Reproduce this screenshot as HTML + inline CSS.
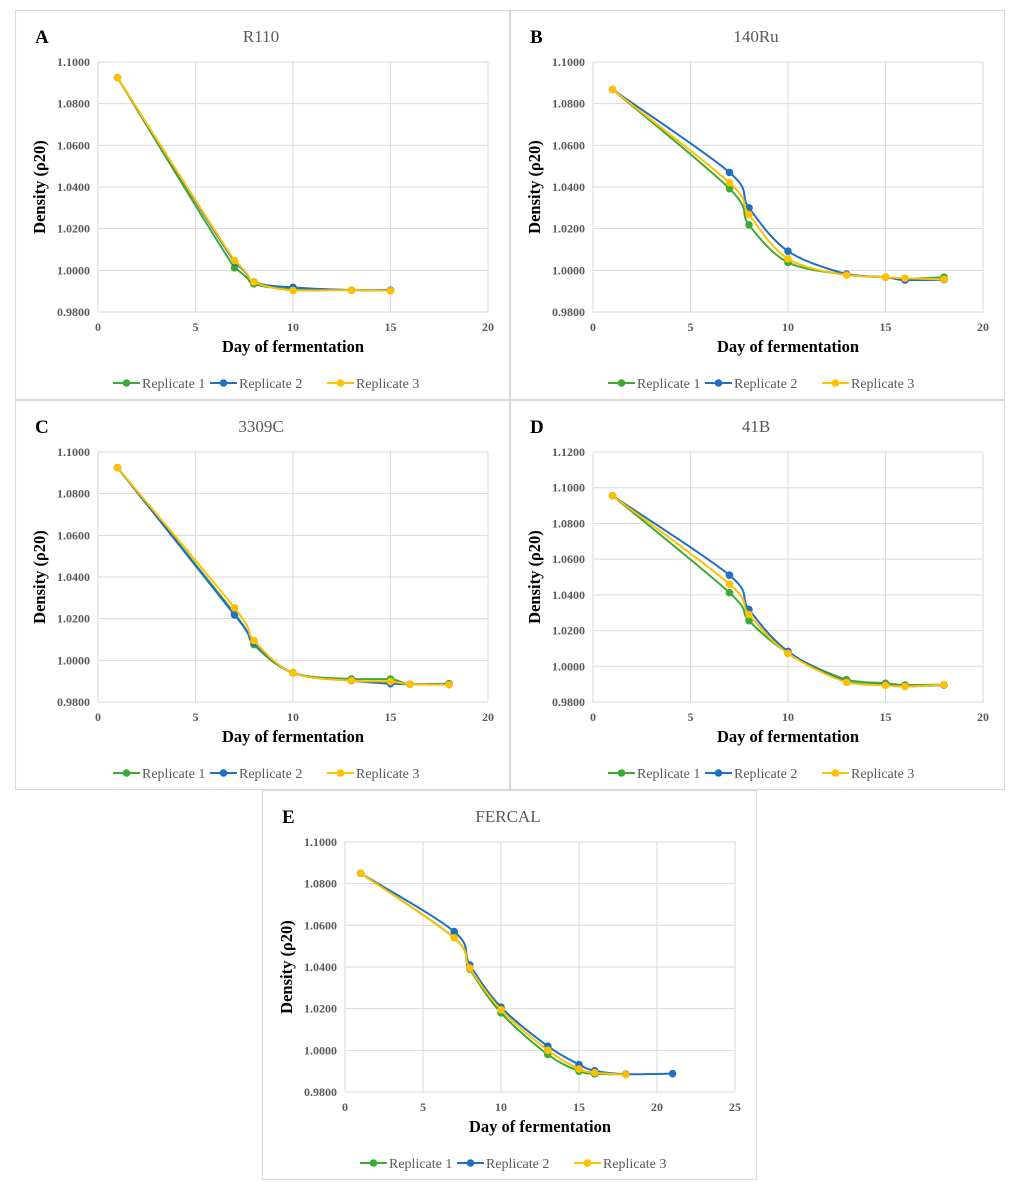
<!DOCTYPE html>
<html><head><meta charset="utf-8">
<style>
html,body{margin:0;padding:0;background:#fff;}
svg{display:block;font-family:"Liberation Serif",serif;}
</style></head>
<body>
<svg id="fig" width="1015" height="1200" viewBox="0 0 1015 1200" xmlns="http://www.w3.org/2000/svg"></svg>
<script>
// ---- Data ----
const panelLetters = ["A","B","C","D","E"];
const panelTitles = ["R110","140Ru","3309C","41B","FERCAL"];
const daysA = [1,7,8,10,13,15];
const a1 = [1.0925,1.0012,0.9935,0.9910,0.9905,0.9903];
const a2 = [1.0925,1.0040,0.9945,0.9918,0.9905,0.9905];
const a3 = [1.0925,1.0047,0.9945,0.9903,0.9905,0.9902];
const daysB = [1,7,8,10,13,15,16,18];
const b1 = [1.0868,1.0392,1.0218,1.0038,0.9980,0.9967,0.9960,0.9967];
const b2 = [1.0868,1.0470,1.0300,1.0092,0.9982,0.9967,0.9953,0.9955];
const b3 = [1.0868,1.0420,1.0268,1.0055,0.9977,0.9967,0.9962,0.9957];
const daysC = [1,7,8,10,13,15,16,18];
const c1 = [1.0925,1.0225,1.0075,0.9940,0.9910,0.9910,0.9885,0.9888];
const c2 = [1.0925,1.0218,1.0085,0.9940,0.9902,0.9888,0.9885,0.9885];
const c3 = [1.0925,1.0252,1.0095,0.9940,0.9902,0.9898,0.9885,0.9883];
const daysD = [1,7,8,10,13,15,16,18];
const d1 = [1.0955,1.0412,1.0255,1.0075,0.9925,0.9905,0.9895,0.9897];
const d2 = [1.0955,1.0510,1.0318,1.0083,0.9913,0.9895,0.9888,0.9895];
const d3 = [1.0955,1.0460,1.0290,1.0072,0.9910,0.9893,0.9887,0.9897];
const daysE = [1,7,8,10,13,15,16,18];
const daysE2 = [1,7,8,10,13,15,16,18,21];
const e1 = [1.0850,1.0540,1.0390,1.0180,0.9980,0.9900,0.9887,0.9885];
const e2 = [1.0850,1.0570,1.0410,1.0207,1.0020,0.9932,0.9902,0.9885,0.9888];
const e3 = [1.0850,1.0540,1.0395,1.0195,1.0000,0.9910,0.9893,0.9883];
const yTicks12 = [0.98,1.00,1.02,1.04,1.06,1.08,1.10];
const yTicks14 = [0.98,1.00,1.02,1.04,1.06,1.08,1.10,1.12];
const xTicks20 = [0,5,10,15,20];
const xTicks25 = [0,5,10,15,20,25];
const seriesNames = ["Replicate 1","Replicate 2","Replicate 3"];
const colors = ["#3daa35","#1f6fc5","#ffc000"];

const panels = [
  {ox:15, oy:10, xt:xTicks20, yt:yTicks12, s:[[daysA,a1],[daysA,a2],[daysA,a3]]},
  {ox:510,oy:10, xt:xTicks20, yt:yTicks12, s:[[daysB,b1],[daysB,b2],[daysB,b3]]},
  {ox:15, oy:400,xt:xTicks20, yt:yTicks12, s:[[daysC,c1],[daysC,c2],[daysC,c3]]},
  {ox:510,oy:400,xt:xTicks20, yt:yTicks14, s:[[daysD,d1],[daysD,d2],[daysD,d3]]},
  {ox:262,oy:790,xt:xTicks25, yt:yTicks12, s:[[daysE,e1],[daysE2,e2],[daysE,e3]]}
];
const NS="http://www.w3.org/2000/svg";
const fig=document.getElementById('fig');
function mk(tag,attrs,parent,text){const e=document.createElementNS(NS,tag);for(const k in attrs)e.setAttribute(k,attrs[k]);if(text!==undefined)e.textContent=text;parent.appendChild(e);return e;}
function clamp(v,a,b){const lo=Math.min(a,b),hi=Math.max(a,b);return Math.max(lo,Math.min(hi,v));}

panels.forEach((p,i)=>{
  const g=mk('g',{transform:`translate(${p.ox},${p.oy})`},fig);
  
  
  const L=83,R=473,T=52,B=302;
  const xmin=p.xt[0],xmax=p.xt[p.xt.length-1],ymin=p.yt[0],ymax=p.yt[p.yt.length-1];
  const X=v=>L+(v-xmin)/(xmax-xmin)*(R-L);
  const Y=v=>B-(v-ymin)/(ymax-ymin)*(B-T);
  const frame=mk('rect',{x:0.5,y:0.5,width:494,height:389,fill:'#fff',stroke:'#d9d9d9','stroke-width':1.2},g);
  
  
  const lt=mk('text',{x:20,y:33,'font-size':19,'font-weight':'bold',fill:'#000'},g,panelLetters[i]);
  
  
  const tt=mk('text',{x:(L+R)/2-32,y:32,'font-size':17,fill:'#595959','text-anchor':'middle'},g,panelTitles[i]);
  
  
  p.yt.forEach(v=>{
    const gl=mk('line',{x1:L,x2:R,y1:Y(v),y2:Y(v),stroke:'#d9d9d9','stroke-width':1},g);
    
    
    const tl=mk('text',{x:L-8,y:Y(v)+4,'font-size':12,'font-weight':'bold',fill:'#595959','text-anchor':'end'},g,v.toFixed(4));
    
    
  });
  p.xt.forEach(v=>{
    const gl=mk('line',{x1:X(v),x2:X(v),y1:T,y2:B,stroke:'#d9d9d9','stroke-width':1},g);
    
    
    const tl=mk('text',{x:X(v),y:321,'font-size':12,'font-weight':'bold',fill:'#595959','text-anchor':'middle'},g,String(v));
    
    
  });
  const xa=mk('text',{x:(L+R)/2,y:342,'font-size':16.5,'font-weight':'bold',fill:'#000','text-anchor':'middle'},g,'Day of fermentation');
  
  
  const ya=mk('text',{transform:`translate(30,${(T+B)/2}) rotate(-90)`,'font-size':16.5,'font-weight':'bold',fill:'#000','text-anchor':'middle'},g,'Density (ρ20)');
  
  
  p.s.forEach((s,k)=>{
    const xs=s[0],ys=s[1];
    const pts=xs.map((d,j)=>[X(d),Y(ys[j])]);
    let dstr=`M${pts[0][0]},${pts[0][1]}`;
    for(let j=0;j<pts.length-1;j++){
      const p0=pts[Math.max(0,j-1)],p1=pts[j],p2=pts[j+1],p3=pts[Math.min(pts.length-1,j+2)];
      const c1x=p1[0]+(p2[0]-p0[0])/6,c1y=clamp(p1[1]+(p2[1]-p0[1])/6,p1[1],p2[1]);
      const c2x=p2[0]-(p3[0]-p1[0])/6,c2y=clamp(p2[1]-(p3[1]-p1[1])/6,p1[1],p2[1]);
      dstr+=` C${c1x},${c1y} ${c2x},${c2y} ${p2[0]},${p2[1]}`;
    }
    const ln=mk('path',{d:dstr,fill:'none',stroke:colors[k],'stroke-width':2},g);
    
    
    pts.forEach(pt=>{
      const c=mk('circle',{cx:pt[0],cy:pt[1],r:3.8,fill:colors[k]},g);
      
      
    });
  });
  const lx=[98,195,312];
  seriesNames.forEach((n,k)=>{
    const lg=mk('g',{},g);
    
    
    mk('line',{x1:lx[k],x2:lx[k]+27,y1:373,y2:373,stroke:colors[k],'stroke-width':2},lg);
    mk('circle',{cx:lx[k]+13.5,cy:373,r:3.8,fill:colors[k]},lg);
    mk('text',{x:lx[k]+29,y:378,'font-size':14,fill:'#595959'},lg,n);
  });
});
</script>
</body></html>
